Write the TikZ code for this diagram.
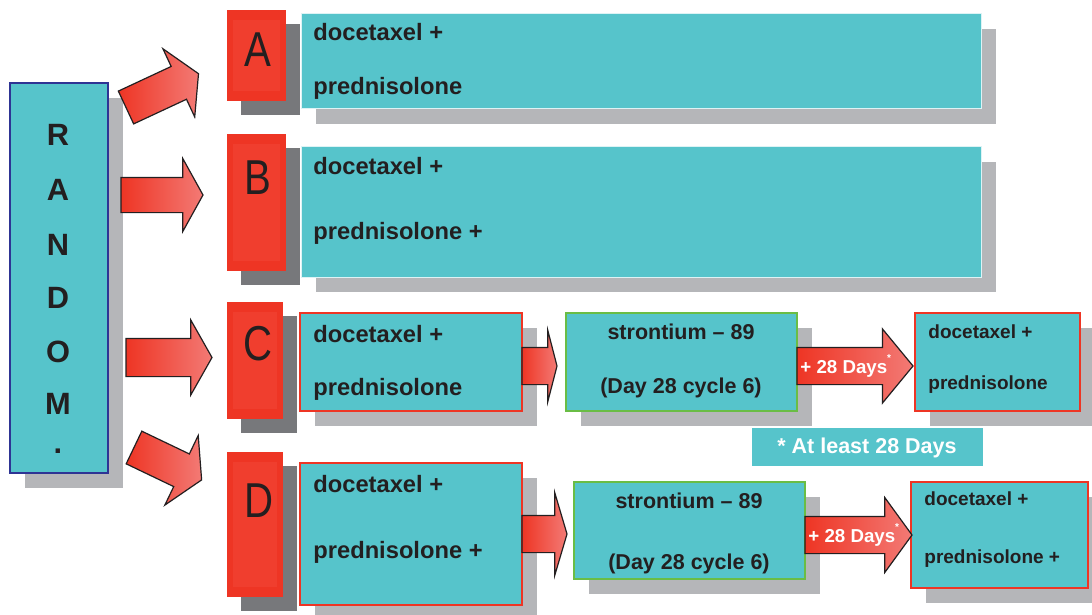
\documentclass[tikz,border=0pt]{standalone}
\usepackage{fontspec}
\setmainfont{Liberation Sans}
\newfontfamily\condfont{Liberation Sans}[FakeStretch=0.82]
\usetikzlibrary{shapes.arrows,shadows,positioning}

\definecolor{tealfill}{RGB}{86,196,203}
\definecolor{boxred}{RGB}{238,53,36}
\definecolor{boxredlight}{RGB}{240,62,46}
\definecolor{arrowpink}{RGB}{243,122,117}
\definecolor{darkshade}{RGB}{119,120,123}
\definecolor{lightshade}{RGB}{181,182,185}
\definecolor{randblue}{RGB}{46,52,148}
\definecolor{srgreen}{RGB}{106,189,69}
\definecolor{ink}{RGB}{35,31,32}

\tikzset{
  sz/.style 2 args={minimum width=#1*0.5pt, minimum height=#2*0.5pt},
  panel/.style={rectangle, inner sep=0pt, outer sep=0pt, anchor=north west, fill=tealfill,
    general shadow={fill=lightshade, shadow xshift=7.5pt, shadow yshift=-7.5pt}},
  letterbox/.style={rectangle, inner sep=0pt, outer sep=0pt, anchor=north west, fill=boxred,
    general shadow={fill=darkshade, shadow xshift=7pt, shadow yshift=-7pt},
    path picture={\fill[boxredlight] ([shift={(3pt,-5pt)}]path picture bounding box.north west)
      rectangle ([shift={(-3pt,5pt)}]path picture bounding box.south east);}},
  bigarrow/.style={single arrow, draw=ink, line width=0.6pt, left color=boxred, right color=arrowpink,
    outer sep=0pt, anchor=tail},
  % length, head width, shaft width (all in px), tip angle
  barrow/.style n args={4}{minimum height=#1*0.5pt, inner xsep=0pt, inner ysep=#3/4*1pt,
    single arrow head extend=(#2-#3)/4*1pt, single arrow tip angle=#4},
  txt/.style={inner sep=0pt, anchor=base west, text=ink, font=\fontsize{11.85}{14}\selectfont\bfseries},
  srtxt/.style={txt, anchor=base, font=\fontsize{10.75}{13}\selectfont\bfseries},
  endtxt/.style={txt, font=\fontsize{9.5}{11}\selectfont\bfseries},
  bigletter/.style={inner sep=0pt, anchor=base, text=ink, font=\condfont\fontsize{24.5}{28}\selectfont},
  randtxt/.style={inner sep=0pt, anchor=base, text=ink, font=\fontsize{15.4}{18}\selectfont\bfseries},
  daytxt/.style={inner sep=0pt, anchor=base west, text=white, font=\fontsize{9.35}{11}\selectfont\bfseries}
}

\begin{document}
\begin{tikzpicture}[x=0.5pt, y=-0.5pt]
  \fill[white] (0,0) rectangle (1092,615);
  \useasboundingbox (0,0) rectangle (1092,615);

  % Randomisation column
  \node[panel, sz={98}{390}, draw=randblue, line width=0.8pt] (rand) at (10,83) {};
  \foreach \ch/\yb [count=\i] in {R/146, A/200, N/255, D/308, O/362, M/414, ./453}
    \node[randtxt] (rl\i) at (58,\yb) {\ch};

  % Arm letters
  \node[letterbox, sz={59}{91}] (armA) at (227,10) {};
  \node[letterbox, sz={59}{137}] (armB) at (227,134) {};
  \node[letterbox, sz={56}{117}] (armC) at (227,302) {};
  \node[letterbox, sz={56}{145}] (armD) at (227,452) {};
  \node[bigletter] (la) at (258,67) {A};
  \node[bigletter] (lb) at (258,194) {B};
  \node[bigletter] (lc) at (258,360) {C};
  \node[bigletter] (ld) at (259,517) {D};

  % Arm A and B
  \node[panel, sz={680}{95}, draw=white!80!tealfill, line width=0.5pt] (a1) at (301,14) {};
  \node[txt] (a1t) at (313,41) {docetaxel +};
  \node[txt] (a1b) at (313,95) {prednisolone};
  \node[panel, sz={680}{130}, draw=white!80!tealfill, line width=0.5pt] (b1) at (301,147) {};
  \node[txt] (b1t) at (313,174) {docetaxel +};
  \node[txt] (b1b) at (313,239) {prednisolone +};

  % Arm C
  \node[panel, sz={222}{98}, draw=boxred, line width=0.6pt] (c1) at (300,313) {};
  \node[txt] (c1t) at (313,342) {docetaxel +};
  \node[txt] (c1b) at (313,395) {prednisolone};
  \node[panel, sz={231}{98}, draw=srgreen, line width=0.6pt] (c2) at (566,313) {};
  \node[srtxt] (c2t) at (681,339) {strontium -- 89};
  \node[srtxt] (c2b) at (681,393) {(Day 28 cycle 6)};
  \node[panel, sz={165}{98}, draw=boxred, line width=0.6pt] (c3) at (915,313) {};
  \node[endtxt] (c3t) at (928,338) {docetaxel +};
  \node[endtxt] (c3b) at (928,389) {prednisolone};
  \node[rectangle, fill=tealfill, inner sep=0pt, anchor=north west, sz={231}{38}] (note) at (752,428) {};
  \node[srtxt, text=white] (notet) at (867,453) {* At least 28 Days};

  % Arm D
  \node[panel, sz={222}{142}, draw=boxred, line width=0.6pt] (d1) at (300,463) {};
  \node[txt] (d1t) at (313,492) {docetaxel +};
  \node[txt] (d1b) at (313,558) {prednisolone +};
  \node[panel, sz={231}{97}, draw=srgreen, line width=0.6pt] (d2) at (574,482) {};
  \node[srtxt] (d2t) at (689,508) {strontium -- 89};
  \node[srtxt] (d2b) at (689,569) {(Day 28 cycle 6)};
  \node[panel, sz={177}{106}, draw=boxred, line width=0.6pt] (d3) at (911,482) {};
  \node[endtxt] (d3t) at (924,505) {docetaxel +};
  \node[endtxt] (d3b) at (924,563) {prednisolone +};

  % Arrows out of the randomisation
  \node[bigarrow, barrow={80}{74}{35}{120}, rotate=25] (toA) at (126,107.5) {};
  \node[bigarrow, barrow={82}{72}{34}{122}] (toB) at (121,195) {};
  \node[bigarrow, barrow={86}{74}{37}{121}] (toC) at (126,357.5) {};
  \node[bigarrow, barrow={75}{76}{35}{120}, rotate=-25.6] (toD) at (134,447.5) {};

  % Arrows along arms C and D
  \node[bigarrow, barrow={35}{70}{36}{151}] (cs) at ([yshift=-2pt]c1.east) {};
  \node[bigarrow, barrow={116}{73}{36}{101}] (cd) at ([yshift=-2pt]c2.east) {};
  \node[daytxt] (cdt) at ([shift={(1.5pt,-3.5pt)}]cd.tail) {+ 28 Days\raisebox{1.2ex}{\fontsize{5}{5}\selectfont *}};
  \node[bigarrow, barrow={45}{82}{36}{147}] (ds) at (d1.east) {};
  \node[bigarrow, barrow={107}{74}{36}{108}] (dd) at ([yshift=-2.25pt]d2.east) {};
  \node[daytxt] (ddt) at ([shift={(1.5pt,-3.5pt)}]dd.tail) {+ 28 Days\raisebox{1.2ex}{\fontsize{5}{5}\selectfont *}};
\end{tikzpicture}
\end{document}
